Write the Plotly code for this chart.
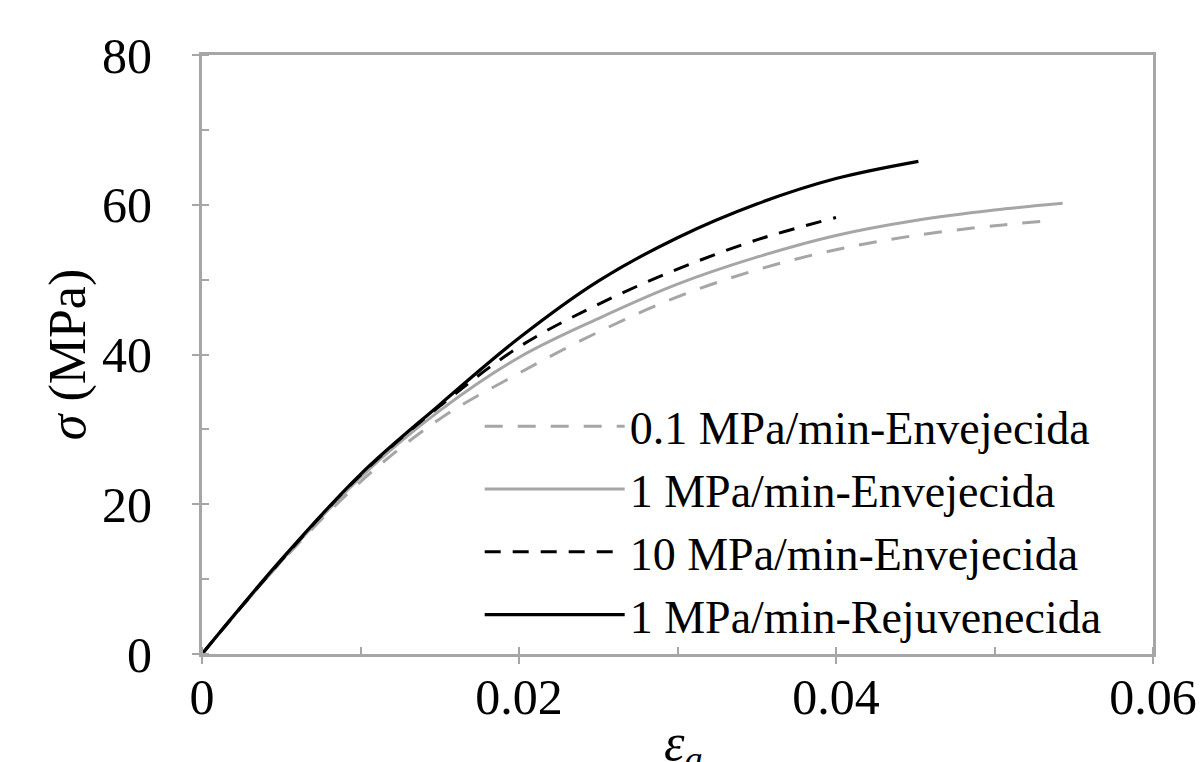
import plotly.graph_objects as go

# Strain (εa) and stress (σ, MPa)
strain_01 = [0, 0.005, 0.010, 0.015, 0.020, 0.025, 0.030, 0.035, 0.040, 0.045, 0.050, 0.0532]
stress_01 = [0, 12.3, 23.0, 31.4, 37.5, 43.0, 47.7, 51.3, 54.0, 55.9, 57.2, 57.8]

strain_1 = [0, 0.005, 0.010, 0.015, 0.020, 0.025, 0.030, 0.035, 0.040, 0.045, 0.050, 0.0543]
stress_1 = [0, 12.4, 23.6, 32.5, 39.6, 44.8, 49.4, 53.0, 55.9, 57.9, 59.3, 60.2]

strain_10 = [0, 0.005, 0.010, 0.015, 0.020, 0.025, 0.030, 0.035, 0.0400]
stress_10 = [0, 12.5, 23.9, 33.1, 41.0, 46.7, 51.4, 55.3, 58.3]

strain_rej = [0, 0.005, 0.010, 0.015, 0.020, 0.025, 0.030, 0.035, 0.040, 0.0452]
stress_rej = [0, 12.6, 24.0, 33.3, 42.2, 49.8, 55.6, 60.1, 63.5, 65.8]

series_names = [
    "0.1 MPa/min-Envejecida",
    "1 MPa/min-Envejecida",
    "10 MPa/min-Envejecida",
    "1 MPa/min-Rejuvenecida",
]

x_ticks = [0, 0.02, 0.04, 0.06]
x_tick_text = ["0", "0.02", "0.04", "0.06"]
y_ticks = [0, 20, 40, 60, 80]
y_tick_text = ["0", "20", "40", "60", "80"]

x_title = "<i>ε</i><sub><i>a</i></sub>"
y_title = "<i>σ</i> (MPa)"

GRAY = "#a6a6a6"
BLACK = "#000000"
FONT = "Liberation Serif, Times New Roman, serif"

styles = [
    dict(color=GRAY, width=3, dash="18px,15px"),
    dict(color=GRAY, width=3, dash="solid"),
    dict(color=BLACK, width=3, dash="16px,12px"),
    dict(color=BLACK, width=3.2, dash="solid"),
]
data = [(strain_01, stress_01), (strain_1, stress_1), (strain_10, stress_10), (strain_rej, stress_rej)]

fig = go.Figure()
for i, ((xs, ys), name, st) in enumerate(zip(data, series_names, styles)):
    fig.add_trace(go.Scatter(
        x=xs, y=ys, mode="lines", name=name, legendgroup=f"g{i}",
        line=dict(shape="spline", smoothing=1.0, **st),
    ))

axis_common = dict(
    showgrid=False, zeroline=False, showline=True, linecolor=GRAY, linewidth=3,
    mirror=True, ticks="outside", ticklen=7, tickwidth=2, tickcolor=GRAY,
    automargin=False,
    tickfont=dict(family=FONT, size=50, color="#000000"),
)

fig.update_layout(
    width=1203, height=762,
    margin=dict(l=202, r=50, t=55, b=108),
    paper_bgcolor="white", plot_bgcolor="white",
    font=dict(family=FONT, color="#000000"),
    showlegend=True,
    legend=dict(
        x=0.292, y=0.441, xanchor="left", yanchor="top",
        bgcolor="rgba(0,0,0,0)", borderwidth=0,
        font=dict(family=FONT, size=46, color="#000000"),
        itemwidth=140, tracegroupgap=0,
    ),
    xaxis=dict(
        range=[0, 0.06], tickmode="array", tickvals=x_ticks, ticktext=x_tick_text,
        ticklabelstandoff=-10,
        minor=dict(tickmode="linear", tick0=0, dtick=0.01, ticks="inside",
                   ticklen=7, tickwidth=2, tickcolor=GRAY),
        **axis_common,
    ),
    yaxis=dict(
        range=[0, 80], tickmode="array", tickvals=y_ticks, ticktext=y_tick_text,
        ticklabelstandoff=30,
        minor=dict(tickmode="linear", tick0=0, dtick=10, ticks="inside",
                   ticklen=7, tickwidth=2, tickcolor=GRAY),
        title=dict(text=y_title, font=dict(family=FONT, size=52), standoff=0),
        **axis_common,
    ),
    xaxis2=dict(
        overlaying="x", anchor="y", range=[0, 0.06], tickmode="array", tickvals=x_ticks,
        showticklabels=False, showline=False, showgrid=False, zeroline=False,
        ticks="inside", ticklen=7, tickwidth=2, tickcolor=GRAY,
    ),
    yaxis2=dict(
        overlaying="y", anchor="x", range=[0, 80], tickmode="array", tickvals=y_ticks,
        showticklabels=False, showline=False, showgrid=False, zeroline=False,
        ticks="inside", ticklen=7, tickwidth=2, tickcolor=GRAY,
    ),
    annotations=[dict(
        text=x_title, xref="paper", yref="paper", x=0.506, y=-0.096,
        xanchor="center", yanchor="top", showarrow=False,
        font=dict(family=FONT, size=52, color="#000000"),
    )],
)

fig.write_html("out.html")
